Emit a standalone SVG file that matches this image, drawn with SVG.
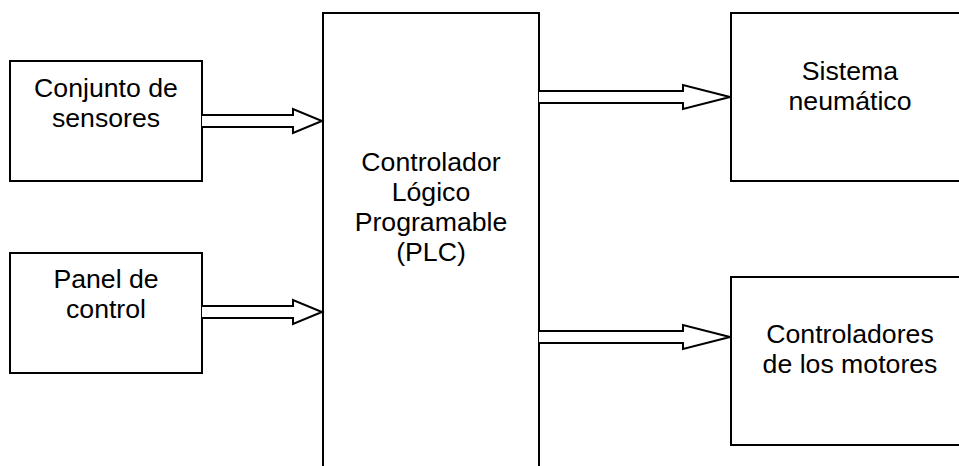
<svg xmlns="http://www.w3.org/2000/svg" width="959" height="466" viewBox="0 0 959 466">
<style>
.box{fill:#fff;stroke:#000;stroke-width:2}
.arr{fill:#fff;stroke:#000;stroke-width:2;stroke-linejoin:miter}
text{font-family:"Liberation Sans",Arial,sans-serif;font-size:26.67px;fill:#000;text-anchor:middle}
</style>
<rect width="959" height="466" fill="#fff"/>
<g id="sensores">
<rect class="box" x="10" y="61" width="192" height="120"/>
<text x="106" y="97">Conjunto de</text>
<text x="106" y="127">sensores</text>
</g>
<g id="panel">
<rect class="box" x="10" y="253" width="192" height="120"/>
<text x="106" y="288">Panel de</text>
<text x="106" y="318">control</text>
</g>
<g id="plc">
<rect class="box" x="323" y="13" width="216" height="470"/>
<text x="431" y="171">Controlador</text>
<text x="431" y="201">Lógico</text>
<text x="431" y="231">Programable</text>
<text x="431" y="261">(PLC)</text>
</g>
<g id="neumatico">
<rect class="box" x="731" y="13" width="240" height="168"/>
<text x="850" y="80">Sistema</text>
<text x="850" y="110">neumático</text>
</g>
<g id="motores">
<rect class="box" x="731" y="277" width="240" height="168"/>
<text x="850" y="343">Controladores</text>
<text x="850" y="373">de los motores</text>
</g>
<g id="connectors">
<path class="arr" d="M202,115 H293 V109 L322,121 L293,133 V127 H202"/>
<path class="arr" d="M202,306 H293 V300 L322,312 L293,324 V318 H202"/>
<path class="arr" d="M539,91 H683 V85 L730,97 L683,109 V103 H539"/>
<path class="arr" d="M539,331 H683 V325 L730,337 L683,349 V343 H539"/>
</g>
</svg>
